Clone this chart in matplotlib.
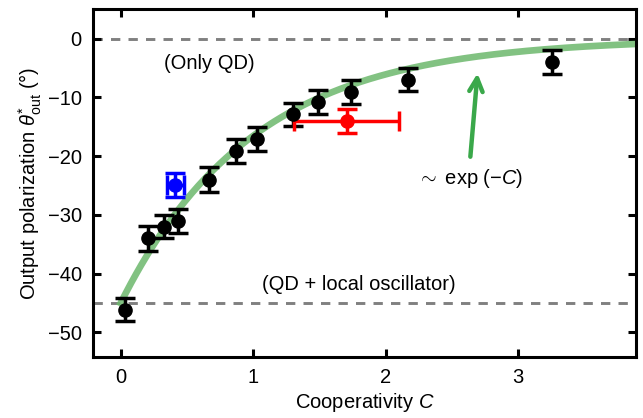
import numpy as np
import matplotlib
matplotlib.use('Agg')
import matplotlib.pyplot as plt

plt.rcParams['font.family'] = ['Liberation Sans', 'DejaVu Sans']
plt.rcParams['mathtext.fontset'] = 'custom'
plt.rcParams['mathtext.rm'] = 'Liberation Sans'
plt.rcParams['mathtext.it'] = 'Liberation Sans:italic'

# measured points (black)
coop = [0.03, 0.21, 0.325, 0.433, 0.665, 0.868, 1.032, 1.30, 1.49, 1.737, 2.17, 3.26]
theta = [-46.1, -34.0, -32.0, -31.0, -24.0, -19.1, -17.1, -12.9, -10.8, -9.1, -7.0, -4.0]
theta_err = [2.0, 2.1, 2.0, 2.0, 2.1, 2.0, 2.0, 2.0, 2.0, 2.0, 2.0, 2.0]

# blue point
blue_c, blue_t, blue_cerr, blue_terr = 0.413, -24.9, 0.065, 2.1
# red point
red_c, red_t, red_cerr, red_terr = 1.705, -14.0, 0.40, 2.0

theta_lo = -45.0
fit_c = np.linspace(0, 3.9, 300)
fit_t = theta_lo * np.exp(-fit_c)

FS = 14.5

fig = plt.figure(figsize=(6.43, 4.18), dpi=100)
ax = fig.add_axes([0.1446, 0.147, 0.8444, 0.831])

ax.axhline(0, color='#808080', ls=(0, (3.2, 2.8)), lw=2.1, zorder=1)
ax.axhline(theta_lo, color='#808080', ls=(0, (3.2, 2.8)), lw=2.1, zorder=1)

ax.plot(fit_c, fit_t, color='#6cb86c', lw=4.8, alpha=0.85, zorder=2)

eb = dict(fmt='o', ms=9.5, elinewidth=2.5, capsize=7, capthick=2.5, zorder=3)
ax.errorbar(coop, theta, yerr=theta_err, color='black', **eb)
ax.errorbar(blue_c, blue_t, xerr=blue_cerr, yerr=blue_terr, color='blue', **eb)
ax.errorbar(red_c, red_t, xerr=red_cerr, yerr=red_terr, color='red', **eb)

ax.annotate('', xy=(2.694, -5.9), xytext=(2.64, -20.1),
            arrowprops=dict(arrowstyle='->', color='#3aa84a', lw=3.2,
                            mutation_scale=24, shrinkA=0, shrinkB=0))
ax.text(2.64, -23.8, r'$\sim$ exp ($-C$)', ha='center', va='center', fontsize=FS)
ax.text(0.672, -4.3, '(Only QD)', ha='center', va='center', fontsize=FS)
ax.text(1.80, -41.9, '(QD + local oscillator)', ha='center', va='center', fontsize=FS)

ax.set_xlim(-0.209, 3.89)
ax.set_ylim(-54.1, 5.0)
ax.set_xticks([0, 1, 2, 3])
ax.set_yticks([0, -10, -20, -30, -40, -50])
ax.tick_params(direction='in', length=6, width=2.2, top=True, right=True,
               labelsize=FS, pad=8)
for s in ax.spines.values():
    s.set_linewidth(2.2)

ax.set_xlabel(r'Cooperativity $C$', fontsize=FS, labelpad=3)
ax.set_ylabel(r'Output polarization $\theta^{*}_{\rm out}$ (°)', fontsize=FS, labelpad=3)

fig.savefig('out.png', dpi=100)
